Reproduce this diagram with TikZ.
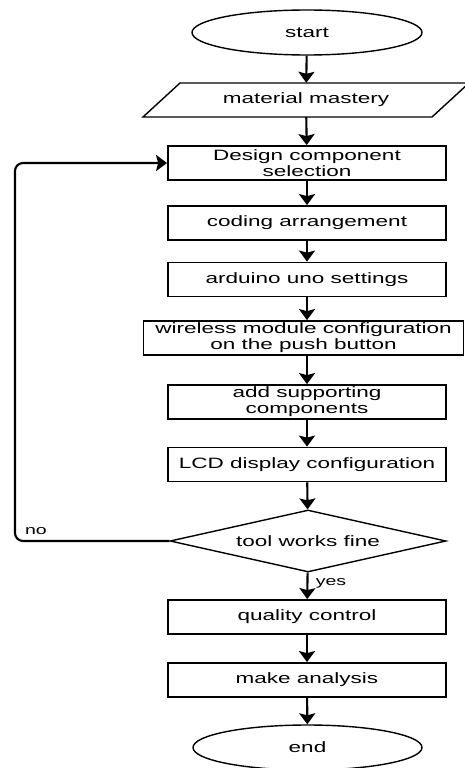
\documentclass[tikz,border=0pt]{standalone}
\usepackage{fontspec}
\setmainfont{Liberation Sans}[FakeStretch=1.5]
\usetikzlibrary{shapes.geometric,arrows.meta}
\begin{document}
\begin{tikzpicture}[x=1pt,y=-1pt,
  every node/.style={font=\fontsize{15pt}{16pt}\selectfont, inner sep=0pt},
  procbox/.style={draw, rectangle, line width=1.8pt, minimum width=278pt, minimum height=34pt, align=center},
  termin/.style={draw, ellipse, line width=1.4pt, minimum width=230pt, minimum height=45pt},
  decide/.style={draw, diamond, line width=1.4pt, aspect=4.45, minimum width=276pt, minimum height=62pt},
  arr/.style={line width=2.1pt, -{Stealth[length=11pt,width=16pt,inset=2pt]}},
  lbl/.style={font=\fontsize{13pt}{14pt}\selectfont}
]
\useasboundingbox (0,0) rectangle (464,768);
\fill[white] (0,0) rectangle (464,768);

\node[termin] (start) at (307,32.5) {start};
% parallelogram
\node[rectangle, minimum width=289pt, minimum height=34pt] (mat) at (306,100) {material mastery};
\draw[line width=1.4pt] (143,117) -- (432,117) -- (469,83) -- (180,83) -- cycle;
\node[procbox] (design) at (307,163) {Design component\\selection};
\node[procbox] (coding) at (307,223) {coding arrangement};
\node[procbox] (ard) at (307,279.5) {arduino uno settings};
\node[procbox, minimum width=320pt] (wire) at (303.5,338) {wireless module configuration\\on the push button};
\node[procbox] (supp) at (307,402) {add supporting\\components};
\node[procbox] (lcd) at (307,464.5) {LCD display configuration};
\node[decide] (dia) at (308,541) {tool works fine};
\node[procbox] (qc) at (307,617) {quality control};
\node[procbox] (ana) at (307,680) {make analysis};
\node[termin, minimum width=229pt] (end) at (307.5,747.5) {end};

\draw[arr] (start) -- (mat);
\draw[arr] (mat) -- (design);
\draw[arr] (design) -- (coding);
\draw[arr] (coding) -- (ard);
\draw[arr] (ard) -- (wire.north -| ard.south);
\draw[arr] (wire.south -| supp.north) -- (supp);
\draw[arr] (supp) -- (lcd);
\draw[arr] (lcd) -- (dia);
\draw[arr] (dia) -- (qc);
\draw[arr] (qc) -- (ana);
\draw[arr] (ana) -- (end);

\coordinate (lb) at (15,541);
\coordinate (lt) at (15,163);
\draw[arr, rounded corners=8pt] (dia.west) -- (lb) -- (lt) -- (design.west);
\node[lbl] (no) at (36,531) {no};
\node[lbl] (yes) at (331,583) {yes};
\end{tikzpicture}
\end{document}
